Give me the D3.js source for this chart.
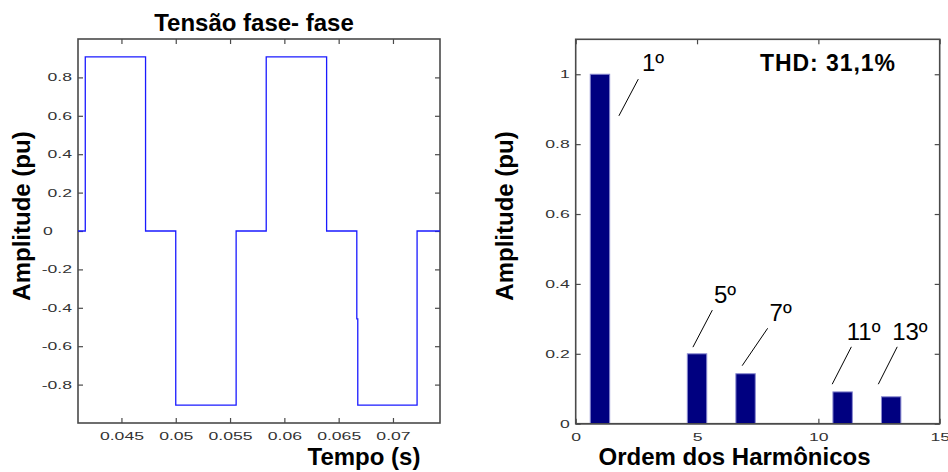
<!DOCTYPE html>
<html>
<head>
<meta charset="utf-8">
<script src="https://cdn.jsdelivr.net/npm/d3@7"></script>
<style>
    body { margin: 0; background: #fff; }
    svg { display: block; font-family: "Liberation Sans", Arial, sans-serif; }
</style>
</head>
<body>
<svg id="chart" width="948" height="472"></svg>
<script>
// Line voltage (six-step), as step points: value holds until the next time
const stepTimes = [0.041, 0.04167, 0.04722, 0.05, 0.05556, 0.05833, 0.06389, 0.06667, 0.06676, 0.07222, 0.07433];
const stepValues = [0, 0.907, 0, -0.907, 0, 0.907, 0, -0.458, -0.907, 0, 0];

const timeTicks = [0.045, 0.05, 0.055, 0.06, 0.065, 0.07];
const voltTicks = [-0.8, -0.6, -0.4, -0.2, 0, 0.2, 0.4, 0.6, 0.8];

// Harmonic spectrum
const harmonicOrders = [1, 5, 7, 11, 13];
const harmonicAmps = [1, 0.2, 0.143, 0.091, 0.077];
const harmonicLabels = ["1º", "5º", "7º", "11º", "13º"];
const orderTicks = [0, 5, 10, 15];
const ampTicks = [0, 0.2, 0.4, 0.6, 0.8, 1];

// annotation leader lines and label anchors, in data units (order, amplitude)
const leaderFrom = [[1.78, 0.881], [4.83, 0.219], [6.86, 0.166], [10.57, 0.113], [12.47, 0.113]];
const leaderTo = [[2.58, 0.986], [5.63, 0.325], [7.91, 0.273], [11.36, 0.220], [13.25, 0.220]];
const labelAt = [[2.73, 1.01], [5.70, 0.345], [7.99, 0.295], [11.17, 0.239], [13.04, 0.239]];

const svg = d3.select("#chart");
const frameColor = "#4a4a4a";
const tickStretch = 1.6;

/**
 * Draws a boxed MATLAB-like axes with inward ticks on all four sides
 */
function drawFrame(g, x, y, xTicks, yTicks, xFmt, yFmt) {
    const [x0, x1] = x.range();
    const [y0, y1] = y.range();

    const bottom = g.append("g").attr("transform", `translate(0,${y0})`)
        .call(d3.axisBottom(x).tickValues(xTicks).tickSize(-5).tickPadding(9).tickFormat(xFmt));
    const top = g.append("g").attr("transform", `translate(0,${y1})`)
        .call(d3.axisTop(x).tickValues(xTicks).tickSize(-5).tickFormat(""));
    const left = g.append("g").attr("transform", `translate(${x0},0)`)
        .call(d3.axisLeft(y).tickValues(yTicks).tickSize(-5).tickPadding(7).tickFormat(yFmt));
    const right = g.append("g").attr("transform", `translate(${x1},0)`)
        .call(d3.axisRight(y).tickValues(yTicks).tickSize(-5).tickFormat(""));

    [bottom, top, left, right].forEach((a) => {
        a.select(".domain").remove();
        a.selectAll("line").attr("stroke", frameColor).attr("stroke-width", 1.2);
        a.selectAll("text")
            .attr("fill", "#333")
            .attr("font-size", 11)
            .attr("font-family", "'Liberation Sans', Arial, sans-serif");
    });

    // wide tick glyphs, as in the original export
    bottom.selectAll("text").attr("transform", `scale(${tickStretch},1)`).attr("dy", "0.71em").attr("y", 9);
    left.selectAll("text").each(function () {
        const t = d3.select(this);
        t.attr("x", -6 / tickStretch).attr("transform", `scale(${tickStretch},1)`);
    });

    g.append("rect")
        .attr("x", x0).attr("y", y1)
        .attr("width", x1 - x0).attr("height", y0 - y1)
        .attr("fill", "none")
        .attr("stroke", frameColor)
        .attr("stroke-width", 1.6);

    return { bottom, left };
}

// ---------- left: waveform ----------
const xL = d3.scaleLinear().domain([0.041, 0.07433]).range([78, 440]);
const yL = d3.scaleLinear().domain([-1, 1]).range([423, 39]);
const gL = svg.append("g");

const fmtV = (d) => (d === 0 ? "0" : d3.format(".1f")(d).replace("−", "-"));
const leftAxes = drawFrame(gL, xL, yL, timeTicks, voltTicks, (d) => String(+d.toFixed(3)), fmtV);

// MATLAB left-pads the lone zero: align it with the start of "0.4"
leftAxes.left.selectAll("text")
    .filter((d) => d === 0)
    .attr("text-anchor", "start")
    .attr("x", (43 - 78) / tickStretch);

const wave = stepTimes.map((t, i) => [t, stepValues[i]]);
gL.append("path")
    .datum(wave)
    .attr("fill", "none")
    .attr("stroke", "#1a1aff")
    .attr("stroke-width", 1.3)
    .attr("d", d3.line().x((d) => xL(d[0])).y((d) => yL(d[1])).curve(d3.curveStepAfter));

gL.append("text")
    .attr("x", 254).attr("y", 31)
    .attr("text-anchor", "middle")
    .attr("font-size", 24).attr("font-weight", "bold")
    .text("Tensão fase- fase");

gL.append("text")
    .attr("x", 364).attr("y", 465)
    .attr("text-anchor", "middle")
    .attr("font-size", 24).attr("font-weight", "bold")
    .text("Tempo (s)");

gL.append("text")
    .attr("transform", "translate(30,216) rotate(-90)")
    .attr("text-anchor", "middle")
    .attr("font-size", 24).attr("font-weight", "bold")
    .text("Amplitude (pu)");

// ---------- right: spectrum ----------
const xR = d3.scaleLinear().domain([0, 15]).range([575.7, 939.7]);
const yR = d3.scaleLinear().domain([0, 1.1]).range([423.7, 39.3]);
const gR = svg.append("g");

drawFrame(gR, xR, yR, orderTicks, ampTicks, (d) => String(d), (d) => (d === 0 || d === 1 ? String(d) : d3.format(".1f")(d)));

const barWidth = 0.8;
gR.append("g")
    .selectAll("rect")
    .data(harmonicOrders)
    .join("rect")
    .attr("x", (d) => xR(d - barWidth / 2))
    .attr("width", (d) => xR(d + barWidth / 2) - xR(d - barWidth / 2))
    .attr("y", (d, i) => yR(harmonicAmps[i]))
    .attr("height", (d, i) => yR(0) - yR(harmonicAmps[i]))
    .attr("fill", "#000080")
    .attr("stroke", "#8a8ad0")
    .attr("stroke-width", 1);

// redraw the bottom edge over the bars
gR.append("line")
    .attr("x1", xR(0)).attr("x2", xR(15))
    .attr("y1", yR(0)).attr("y2", yR(0))
    .attr("stroke", frameColor).attr("stroke-width", 1.6);

const notes = gR.append("g");
notes.selectAll("line")
    .data(harmonicOrders)
    .join("line")
    .attr("x1", (d, i) => xR(leaderFrom[i][0]))
    .attr("y1", (d, i) => yR(leaderFrom[i][1]))
    .attr("x2", (d, i) => xR(leaderTo[i][0]))
    .attr("y2", (d, i) => yR(leaderTo[i][1]))
    .attr("stroke", "#000")
    .attr("stroke-width", 1);

notes.selectAll("text")
    .data(harmonicLabels)
    .join("text")
    .attr("x", (d, i) => xR(labelAt[i][0]))
    .attr("y", (d, i) => yR(labelAt[i][1]))
    .attr("font-size", 24)
    .text((d) => d);

gR.append("text")
    .attr("x", 760).attr("y", 71)
    .attr("font-size", 23).attr("font-weight", "bold")
    .attr("textLength", 135)
    .text("THD: 31,1%");

gR.append("text")
    .attr("x", 734.5).attr("y", 465)
    .attr("text-anchor", "middle")
    .attr("font-size", 24).attr("font-weight", "bold")
    .text("Ordem dos Harmônicos");

gR.append("text")
    .attr("transform", "translate(513,216) rotate(-90)")
    .attr("text-anchor", "middle")
    .attr("font-size", 24).attr("font-weight", "bold")
    .text("Amplitude (pu)");
</script>
</body>
</html>
